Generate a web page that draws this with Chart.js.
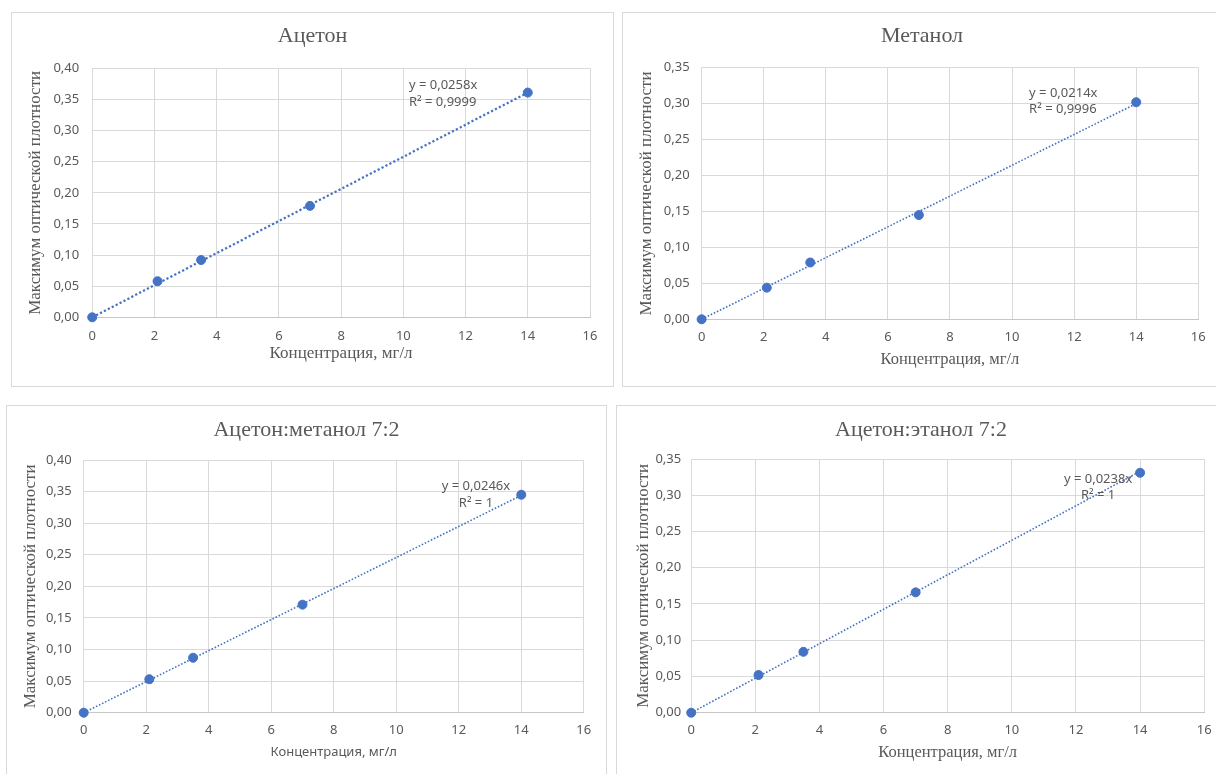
<!DOCTYPE html>
<html lang="ru">
<head>
<meta charset="utf-8">
<title>Калибровочные графики</title>
<script src="https://cdn.jsdelivr.net/npm/chart.js@4.4.1/dist/chart.umd.min.js"></script>
<style>
  html, body { margin: 0; padding: 0; background: #fff; overflow: hidden; }
  body { width: 1216px; height: 774px; position: relative; }
  .box { position: absolute; border: 1px solid #d9d9d9; box-sizing: border-box; background: #fff; }
  .box canvas { position: absolute; left: 0; top: 0; }
</style>
</head>
<body>
<div class="box" id="box1"><canvas id="c1"></canvas></div>
<div class="box" id="box2"><canvas id="c2"></canvas></div>
<div class="box" id="box3"><canvas id="c3"></canvas></div>
<div class="box" id="box4"><canvas id="c4"></canvas></div>
<script>
const concentration = [0, 2.1, 3.5, 7, 14];
const acetoneOD = [0, 0.058, 0.092, 0.179, 0.361];
const methanolOD = [0, 0.044, 0.079, 0.145, 0.302];
const acetMethOD = [0, 0.053, 0.087, 0.171, 0.345];
const acetEthOD = [0, 0.052, 0.084, 0.166, 0.331];

//Линии тренда (начало и конец)
const trendX = [0, 14];
const acetoneTrend = [0, 0.361];
const methanolTrend = [0, 0.300];
const acetMethTrend = [0, 0.344];
const acetEthTrend = [0, 0.333];

const chartTitles = ['Ацетон', 'Метанол', 'Ацетон:метанол 7:2', 'Ацетон:этанол 7:2'];
const trendEquations = ['y = 0,0258x', 'y = 0,0214x', 'y = 0,0246x', 'y = 0,0238x'];
const trendR2 = ['R² = 0,9999', 'R² = 0,9996', 'R² = 1', 'R² = 1'];
const yMaxValues = [0.40, 0.35, 0.40, 0.35];
const xMax = 16;
const xStep = 2;
const yStep = 0.05;
const xAxisTitle = 'Концентрация, мг/л';
const yAxisTitle = 'Максимум оптической плотности';

const BLUE = '#4472C4';
const GRAY_TEXT = '#595959';
const GRID = '#d9d9d9';

//Положение каждого графика на странице (пиксели)
const layouts = [
  { box: [11, 12, 603, 375], plot: [92.2, 590, 68.3, 317.3], titleY: 36.7, yTitleX: 35.5, xLabelY: 336, xTitleY: 354, tickGap: 13,
    label: { x: 10.18, y: 0.372, align: 'left' }, lineW: 2.25, dash: [2.2, 2.2], xTitleSans: false, xTitleSize: 17 },
  { box: [622, 12, 600, 375], plot: [701.6, 1198.3, 67.7, 319.3], titleY: 36.7, yTitleX: 646.7, xLabelY: 337.3, xTitleY: 360, tickGap: 12,
    label: { x: 10.55, y: 0.315, align: 'left' }, lineW: 1.6, dash: [1.6, 1.8], xTitleSans: false, xTitleSize: 16.5 },
  { box: [6, 405, 601, 380], plot: [83.7, 583.8, 460, 712.7], titleY: 430, yTitleX: 31, xLabelY: 730.7, xTitleY: 752.7, tickGap: 12,
    label: { x: 12.55, y: 0.358, align: 'center' }, lineW: 1.6, dash: [1.6, 1.8], xTitleSans: true, xTitleSize: 13 },
  { box: [616, 405, 610, 380], plot: [691.2, 1204.2, 459, 712.7], titleY: 430, yTitleX: 644, xLabelY: 730, xTitleY: 752.7, tickGap: 10,
    label: { x: 12.69, y: 0.322, align: 'center' }, lineW: 1.6, dash: [1.6, 1.8], xTitleSans: false, xTitleSize: 16.5 }
];

const seriesList = [acetoneOD, methanolOD, acetMethOD, acetEthOD];
const trendList = [acetoneTrend, methanolTrend, acetMethTrend, acetEthTrend];

//Подпись уравнения тренда
const trendLabelPlugin = {
  id: 'trendLabel',
  afterDatasetsDraw(chart, args, opts) {
    if (!opts || !opts.lines) return;
    const ctx = chart.ctx;
    const px = chart.scales.x.getPixelForValue(opts.x);
    const py = chart.scales.y.getPixelForValue(opts.y);
    ctx.save();
    ctx.font = '13px "Noto Sans"';
    ctx.fillStyle = GRAY_TEXT;
    ctx.textAlign = opts.align;
    ctx.textBaseline = 'middle';
    opts.lines.forEach((t, i) => ctx.fillText(t, px, py + i * 16.5));
    ctx.restore();
  }
};
Chart.register(trendLabelPlugin);

function fmt(v) {
  return v.toFixed(2).replace('.', ',');
}

function makeChart(i) {
  const L = layouts[i];
  const [bx, by, bw, bh] = L.box;
  const boxEl = document.getElementById('box' + (i + 1));
  boxEl.style.left = bx + 'px';
  boxEl.style.top = by + 'px';
  boxEl.style.width = bw + 'px';
  boxEl.style.height = bh + 'px';

  const cl = bx + 1, ct = by + 1, cw = bw - 2, ch = bh - 2;
  const canvas = document.getElementById('c' + (i + 1));
  canvas.width = cw;
  canvas.height = ch;

  const [pl, pr, pt, pb] = L.plot;
  const titleSize = 22, titleLH = titleSize * 1.2;
  const titlePadTop = L.titleY - ct - titleLH / 2;
  const titlePadBottom = (pt - ct) - titlePadTop - titleLH;
  const yTitleSize = 17, yTitleLH = yTitleSize * 1.2;
  const xTitleSize = L.xTitleSize, xTitleLH = xTitleSize * 1.2;
  const tickLH = 13 * 1.2;

  const yWidth = pl - cl;
  const xHeight = (ct + ch) - pb;
  const rightPad = (cl + cw) - pr;

  const points = concentration.map((x, k) => ({ x, y: seriesList[i][k] }));
  const trend = trendX.map((x, k) => ({ x, y: trendList[i][k] }));

  return new Chart(canvas.getContext('2d'), {
    type: 'scatter',
    data: {
      datasets: [
        {
          data: points,
          backgroundColor: BLUE,
          borderColor: BLUE,
          pointRadius: 4.5,
          pointHoverRadius: 4.5,
          clip: false
        },
        {
          data: trend,
          showLine: true,
          borderColor: BLUE,
          borderWidth: L.lineW,
          borderDash: L.dash,
          pointRadius: 0,
          fill: false,
          clip: false
        }
      ]
    },
    options: {
      responsive: false,
      animation: false,
      layout: { padding: 0 },
      plugins: {
        legend: { display: false },
        tooltip: { enabled: false },
        title: {
          display: true,
          text: chartTitles[i],
          color: GRAY_TEXT,
          font: { family: '"Liberation Serif", "Times New Roman", serif', size: titleSize, weight: 'normal', lineHeight: 1.2 },
          padding: { top: titlePadTop, bottom: titlePadBottom }
        },
        trendLabel: {
          lines: [trendEquations[i], trendR2[i]],
          x: L.label.x,
          y: L.label.y,
          align: L.label.align
        }
      },
      scales: {
        x: {
          type: 'linear',
          min: 0,
          max: xMax,
          ticks: {
            stepSize: xStep,
            color: GRAY_TEXT,
            font: { family: '"Noto Sans"', size: 13, lineHeight: 1.2 },
            padding: L.xLabelY - pb - tickLH / 2,
            maxRotation: 0
          },
          grid: { color: GRID, drawTicks: false },
          border: { color: '#c6c6c6' },
          title: {
            display: true,
            text: xAxisTitle,
            color: GRAY_TEXT,
            font: L.xTitleSans
              ? { family: '"Noto Sans"', size: xTitleSize, lineHeight: 1.2 }
              : { family: '"Liberation Serif", serif', size: xTitleSize, lineHeight: 1.2 },
            padding: { top: 0, bottom: (ct + ch) - L.xTitleY - xTitleLH / 2 }
          },
          afterFit(scale) {
            scale.height = xHeight;
            scale.paddingRight = rightPad;
          }
        },
        y: {
          type: 'linear',
          min: 0,
          max: yMaxValues[i],
          ticks: {
            stepSize: yStep,
            color: GRAY_TEXT,
            font: { family: '"Noto Sans"', size: 13, lineHeight: 1.2 },
            padding: L.tickGap,
            callback: v => fmt(v)
          },
          grid: { color: GRID, drawTicks: false },
          border: { color: GRID },
          title: {
            display: true,
            text: yAxisTitle,
            color: GRAY_TEXT,
            font: { family: '"Liberation Serif", serif', size: yTitleSize, lineHeight: 1.2 },
            padding: { top: L.yTitleX - cl - yTitleLH / 2, bottom: 0 }
          },
          afterFit(scale) {
            scale.width = yWidth;
          }
        }
      }
    }
  });
}

const charts = [0, 1, 2, 3].map(makeChart);
</script>
</body>
</html>
